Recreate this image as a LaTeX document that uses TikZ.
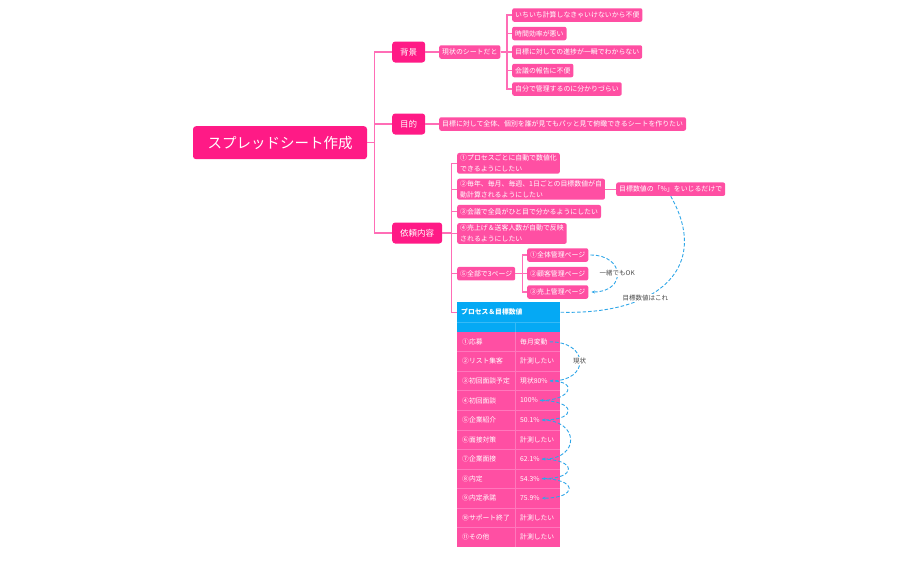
\documentclass[tikz,border=0pt]{standalone}
\usepackage{fontspec}
\setmainfont{Noto Sans CJK JP}
\usetikzlibrary{arrows.meta}
\definecolor{rootpink}{HTML}{FF1A86}
\definecolor{leafpink}{HTML}{FF4FA3}
\definecolor{linkpink}{HTML}{FF6DB6}
\definecolor{gridpink}{HTML}{FF78BC}
\definecolor{headblue}{HTML}{05A9F4}
\definecolor{noteblue}{HTML}{2EA6E8}

\begin{document}
\begin{tikzpicture}[x=1pt, y=1pt,
  root/.style={rounded corners=3pt, fill=rootpink, text=white, minimum width=174pt,
               minimum height=33pt, font=\fontsize{14.5}{16}\selectfont},
  branch/.style={rounded corners=3pt, fill=rootpink, text=white, minimum height=21pt,
                 inner xsep=8pt, anchor=west, font=\fontsize{8.5}{10}\selectfont},
  leaf/.style={rounded corners=2pt, fill=leafpink, text=white, minimum height=13.5pt,
               inner xsep=3pt, inner ysep=2pt, anchor=west, align=left,
               font=\fontsize{6.9}{10.5}\selectfont},
  link/.style={linkpink, line width=1.4pt},
  note/.style={noteblue, line width=0.9pt, dash pattern=on 3.5pt off 2pt},
  notelabel/.style={fill=white, text=black!70, inner sep=1pt, font=\fontsize{6.5}{8}\selectfont},
  cell/.style={text=white, anchor=west, inner sep=0pt, font=\fontsize{6.8}{8}\selectfont},
  head/.style={fill=headblue, text=white, anchor=north west, minimum height=20pt,
               text width=95pt, inner xsep=4pt, align=left,
               font=\fontsize{6.8}{8}\selectfont\bfseries},
]
\useasboundingbox (0,0) rectangle (917,-568);

\node[root] (root) at (280,-142.7) {スプレッドシート作成};
\node[branch] (bg) at (392,-52) {背景};
\node[branch] (aim) at (392,-124) {目的};
\node[branch] (req) at (392,-233) {依頼内容};

\node[leaf] (now) at (439,-52) {現状のシートだと};
\node[leaf] (bg1) at (512,-15) {いちいち計算しなきゃいけないから不便};
\node[leaf] (bg2) at (512,-33.5) {時間効率が悪い};
\node[leaf] (bg3) at (512,-52) {目標に対しての進捗が一瞬でわからない};
\node[leaf] (bg4) at (512,-70.5) {会議の報告に不便};
\node[leaf] (bg5) at (512,-89) {自分で管理するのに分かりづらい};

\node[leaf] (aim1) at (439,-124) {目標に対して全体、個別を誰が見てもパッと見て俯瞰できるシートを作りたい};

\node[leaf] (req1) at (457,-163.3) {①プロセスごとに自動で数値化\\できるようにしたい};
\node[leaf] (req2) at (457,-189.2) {②毎年、毎月、毎週、1日ごとの目標数値が自\\動計算されるようにしたい};
\node[leaf] (req3) at (457,-211.7) {③会議で全員がひと目で分かるようにしたい};
\node[leaf] (req4) at (457,-233.5) {④売上げ＆送客人数が自動で反映\\されるようにしたい};
\node[leaf] (req5) at (457,-273.7) {⑤全部で3ページ};
\node[leaf] (page1) at (527,-255) {①全体管理ページ};
\node[leaf] (page2) at (527,-273.7) {②顧客管理ページ};
\node[leaf] (page3) at (527,-292) {③売上管理ページ};
\node[leaf] (goal) at (616,-189.2) {目標数値の「\%」をいじるだけで};

% table
\node[head] (tbl) at (457,-302) {プロセス＆目標数値};
\fill[headblue] (457,-322) rectangle (560,-332);
\fill[leafpink] (457,-332) rectangle (560,-547);
\draw[headblue!80!white, line width=0.5pt] (457,-322) -- (560,-322);
\draw[headblue!80!white, line width=0.5pt] (515,-322) -- (515,-332);
\draw[gridpink, line width=0.5pt] (515,-332) -- (515,-547);
\foreach \i in {1,...,10}
  \draw[gridpink, line width=0.5pt] (457,{-332-19.55*\i}) -- (560,{-332-19.55*\i});
\foreach \i/\stage/\val in {1/①応募/毎月変動, 2/②リスト集客/計測したい,
    3/③初回面談予定/現状80\%, 4/④初回面談/100\%, 5/⑤企業紹介/50.1\%,
    6/⑥面接対策/計測したい, 7/⑦企業面接/62.1\%, 8/⑧内定/54.3\%,
    9/⑨内定承諾/75.9\%, 10/⑩サポート終了/計測したい, 11/⑪その他/計測したい}{
  \node[cell] (s\i) at (462,{-332-19.55*(\i-0.5)}) {\stage};
  \node[cell] (v\i) at (520,{-332-19.55*(\i-0.5)}) {\val};
}

\draw[link] (root.east) -- ++(7,0) |- (bg.west);
\draw[link] (root.east) -- ++(7,0) |- (aim.west);
\draw[link] (root.east) -- ++(7,0) |- (req.west);
\draw[link] (bg.east) -- (now.west);
\foreach \n in {bg1,bg2,bg3,bg4,bg5}
  \draw[link] (now.east) -- ++(6.5,0) |- (\n.west);
\draw[link] (aim.east) -- (aim1.west);
\foreach \n in {req1,req2,req3,req4,req5,tbl}
  \draw[link] (req.east) -- ++(9,0) |- (\n.west);
\foreach \n in {page1,page2,page3}
  \draw[link] (req5.east) -- ++(7,0) |- (\n.west);
\draw[link] (req2.east) -- (goal.west);

% notes
\draw[note, -{Stealth[length=3.5pt, width=3pt]}] ([xshift=2pt]page1.east)
  to[out=0, in=0, distance=35pt] node[notelabel] {一緒でもOK} ([xshift=3pt]page3.east);
\draw[note] (goal.south) .. controls +(40,-70) and +(100,-3) .. (tbl.east)
  node[notelabel, pos=0.65] {目標数値はこれ};
\draw[note, -{Stealth[length=3.5pt, width=3pt]}] ([xshift=2pt]v1.east)
  to[out=0, in=0, distance=40pt] node[notelabel] {現状} ([xshift=2pt]v3.east);
\draw[note, -{Stealth[length=3.5pt, width=3pt]}] ([xshift=2pt]v3.east)
  to[out=0, in=0, distance=30pt] ([xshift=2pt]v4.east);
\draw[note, -{Stealth[length=3.5pt, width=3pt]}] ([xshift=2pt]v4.east)
  to[out=0, in=0, distance=36pt] ([xshift=2pt]v5.east);
\draw[note, -{Stealth[length=3.5pt, width=3pt]}] ([xshift=2pt]v5.east)
  to[out=0, in=0, distance=38pt] ([xshift=2pt]v7.east);
\draw[note, -{Stealth[length=3.5pt, width=3pt]}] ([xshift=2pt]v7.east)
  to[out=0, in=0, distance=35pt] ([xshift=2pt]v8.east);
\draw[note, -{Stealth[length=3.5pt, width=3pt]}] ([xshift=2pt]v8.east)
  to[out=0, in=0, distance=36pt] ([xshift=2pt]v9.east);

\end{tikzpicture}
\end{document}
